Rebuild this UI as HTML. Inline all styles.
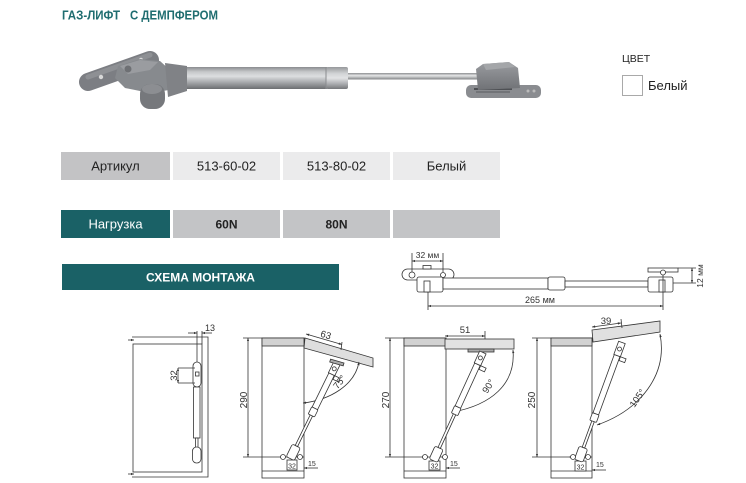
<!DOCTYPE html>
<html><head><meta charset="utf-8">
<style>
html,body{margin:0;padding:0;background:#fff;}
svg{display:block;}
</style></head>
<body>
<svg width="746" height="483" viewBox="0 0 746 483" xmlns="http://www.w3.org/2000/svg" font-family="'Liberation Sans', sans-serif">
<defs>
<linearGradient id="cyl" x1="0" y1="0" x2="0" y2="1">
<stop offset="0" stop-color="#8a8c8f"/>
<stop offset="0.22" stop-color="#c6c8ca"/>
<stop offset="0.42" stop-color="#dcdee0"/>
<stop offset="0.7" stop-color="#a6a8ab"/>
<stop offset="1" stop-color="#6c6e71"/>
</linearGradient>
<linearGradient id="cyl2" x1="0" y1="0" x2="0" y2="1">
<stop offset="0" stop-color="#96989b"/>
<stop offset="0.3" stop-color="#d2d4d6"/>
<stop offset="0.5" stop-color="#e2e3e5"/>
<stop offset="0.75" stop-color="#aeb0b3"/>
<stop offset="1" stop-color="#76787b"/>
</linearGradient>
<linearGradient id="rod" x1="0" y1="0" x2="0" y2="1">
<stop offset="0" stop-color="#8c8e90"/>
<stop offset="0.4" stop-color="#e6e7e8"/>
<stop offset="1" stop-color="#808284"/>
</linearGradient>
<linearGradient id="gray" x1="0" y1="0" x2="0" y2="1">
<stop offset="0" stop-color="#9a9ca0"/>
<stop offset="1" stop-color="#707276"/>
</linearGradient>
<marker id="a" viewBox="0 0 6 6" refX="6" refY="3" markerWidth="4" markerHeight="4" orient="auto-start-reverse"><path d="M0,0.8 L6,3 L0,5.2z" fill="#333"/></marker>
</defs>

<!-- Title -->
<text x="62" y="19.5" font-size="12.5" font-weight="bold" fill="#1f6d70" textLength="58" lengthAdjust="spacingAndGlyphs">ГАЗ-ЛИФТ</text>
<text x="130" y="19.5" font-size="12.5" font-weight="bold" fill="#1f6d70" textLength="88" lengthAdjust="spacingAndGlyphs">С ДЕМПФЕРОМ</text>

<!-- Photo of gas lift -->
<g>
  <line x1="88" y1="82" x2="150" y2="60" stroke="#7c7e83" stroke-width="18" stroke-linecap="round"/>
  <line x1="88" y1="77" x2="150" y2="55" stroke="#8e9094" stroke-width="5" stroke-linecap="round"/>
  <circle cx="101" cy="77" r="2.2" fill="#d8d8d8"/>
  <circle cx="141" cy="60" r="2.2" fill="#d8d8d8"/>
  <polygon points="118,66 140,59 160,61 171,71 169,90 150,93 125,88 115,78" fill="#878a8e"/>
  <polygon points="120,66 140,60 158,62 150,70 128,74" fill="#9a9ca0"/>
  <circle cx="128" cy="69" r="3.5" fill="#6e7074"/>
  <polygon points="165,63 187,66 187,91 168,97" fill="#808286"/>
  <rect x="140" y="84" width="25" height="25" rx="10" fill="#76787c"/>
  <ellipse cx="152" cy="89" rx="10" ry="5" fill="#8c8e92"/>
  <rect x="187" y="67" width="140" height="22" fill="url(#cyl)"/>
  <rect x="326" y="67" width="22" height="22" rx="2" fill="url(#cyl2)"/>
  <line x1="326" y1="67" x2="326" y2="89" stroke="#8a8c8f" stroke-width="1"/>
  <rect x="348" y="73" width="132" height="6.5" fill="url(#rod)"/>
  <rect x="466" y="85" width="75" height="13" rx="5" fill="#8a8c90"/>
  <line x1="474" y1="89" x2="512" y2="89" stroke="#4e5054" stroke-width="2"/>
  <line x1="476" y1="92" x2="510" y2="92" stroke="#6a6c70" stroke-width="1.5"/>
  <circle cx="528" cy="91" r="1.5" fill="#bbb"/>
  <circle cx="534" cy="91" r="1.5" fill="#bbb"/>
  <polygon points="476,69 483,64 509,62 518,68 520,88 478,90" fill="url(#gray)"/>
  <polygon points="483,64 509,62 515,67 486,70" fill="#a4a6a9"/>
</g>

<!-- Color -->
<text x="622" y="62" font-size="10.5" fill="#222">ЦВЕТ</text>
<rect x="622.5" y="75.5" width="20" height="20" fill="#fff" stroke="#a9a9a9" stroke-width="1"/>
<text x="648" y="90" font-size="13" fill="#222">Белый</text>

<!-- Table row 1 -->
<rect x="61" y="152" width="109" height="28" fill="#c3c3c5"/>
<rect x="173" y="152" width="107" height="28" fill="#ebebec"/>
<rect x="283" y="152" width="107" height="28" fill="#ebebec"/>
<rect x="393" y="152" width="107" height="28" fill="#ebebec"/>
<text x="115.5" y="170.5" font-size="13" fill="#222" text-anchor="middle">Артикул</text>
<text x="226.5" y="170.5" font-size="13" fill="#222" text-anchor="middle">513-60-02</text>
<text x="336.5" y="170.5" font-size="13" fill="#222" text-anchor="middle">513-80-02</text>
<text x="446.5" y="170.5" font-size="13" fill="#222" text-anchor="middle">Белый</text>

<!-- Table row 2 -->
<rect x="61" y="210" width="109" height="28" fill="#1a6166"/>
<rect x="173" y="210" width="107" height="28" fill="#c3c4c6"/>
<rect x="283" y="210" width="107" height="28" fill="#c3c4c6"/>
<rect x="393" y="210" width="107" height="28" fill="#c3c4c6"/>
<text x="115.5" y="228.5" font-size="13" fill="#fff" text-anchor="middle">Нагрузка</text>
<text x="226.5" y="228.5" font-size="12" font-weight="bold" fill="#222" text-anchor="middle">60N</text>
<text x="336.5" y="228.5" font-size="12" font-weight="bold" fill="#222" text-anchor="middle">80N</text>

<!-- Schema bar -->
<rect x="62" y="264" width="277" height="26" fill="#1a6166"/>
<text x="200.5" y="281.5" font-size="12" font-weight="bold" fill="#fff" text-anchor="middle">СХЕМА МОНТАЖА</text>

<!-- Top-right technical drawing -->
<g stroke="#333" stroke-width="0.8" fill="#fff">
  <rect x="402" y="269" width="52" height="11" rx="5.5"/>
  <circle cx="412" cy="275" r="3"/>
  <circle cx="443" cy="275" r="2.5"/>
  <rect x="423" y="265.5" width="8" height="3.5" fill="#fff"/>
  <rect x="417" y="277" width="26" height="15" rx="2"/>
  <rect x="424" y="281" width="6" height="11"/>
  <rect x="443" y="278" width="105" height="11"/>
  <rect x="548" y="277" width="17" height="13" rx="2"/>
  <rect x="565" y="281" width="83" height="6"/>
  <rect x="648" y="268" width="30" height="4"/>
  <circle cx="663" cy="272.5" r="2.5"/>
  <rect x="648" y="277" width="25" height="15" rx="2"/>
  <rect x="659" y="280" width="6" height="12"/>
  <line x1="412" y1="253" x2="412" y2="272"/>
  <line x1="443" y1="253" x2="443" y2="272"/>
  <line x1="412" y1="261" x2="443" y2="261" marker-start="url(#a)" marker-end="url(#a)"/>
  <line x1="428" y1="292" x2="428" y2="310"/>
  <line x1="663" y1="275" x2="663" y2="310"/>
  <line x1="428" y1="306" x2="663" y2="306" marker-start="url(#a)" marker-end="url(#a)"/>
  <line x1="678" y1="268" x2="696" y2="268"/>
  <line x1="673" y1="283" x2="696" y2="283"/>
  <line x1="692" y1="268" x2="692" y2="283" marker-start="url(#a)" marker-end="url(#a)"/>
</g>
<text x="427.5" y="258" font-size="8.5" fill="#333" text-anchor="middle">32 мм</text>
<text x="540" y="303" font-size="9" fill="#333" text-anchor="middle">265 мм</text>
<text transform="translate(703,276) rotate(-90)" font-size="8.5" fill="#333" text-anchor="middle">12 мм</text>

<!-- Diagram 1: front view -->
<g stroke="#333" stroke-width="0.8" fill="none">
  <polyline points="132,337 208,337 208,477 132,477"/>
  <rect x="133" y="344" width="69" height="128" fill="#fff"/>
  <line x1="197" y1="331" x2="197" y2="362"/>
  <line x1="202" y1="331" x2="202" y2="344"/>
  <line x1="188" y1="333" x2="197" y2="333" marker-end="url(#a)"/>
  <line x1="212" y1="333" x2="202" y2="333" marker-end="url(#a)"/>
  <rect x="193" y="362" width="8" height="25" rx="4" fill="#fff"/>
  <rect x="195.5" y="372" width="3.5" height="4" fill="#fff"/>
  <rect x="193.5" y="387" width="6.5" height="51" fill="#fff"/>
  <rect x="195.5" y="438" width="2.5" height="10" fill="#fff"/>
  <rect x="192.5" y="447" width="8.5" height="16" rx="4" fill="#fff"/>
  <line x1="178" y1="368" x2="195" y2="368"/>
  <line x1="178" y1="383" x2="195" y2="383"/>
  <line x1="178" y1="368" x2="178" y2="383" marker-start="url(#a)" marker-end="url(#a)"/>
  <line x1="128" y1="340" x2="134" y2="340" marker-end="url(#a)"/>
  <line x1="128" y1="474" x2="134" y2="474" marker-end="url(#a)"/>
</g>
<text x="205" y="331" font-size="9" fill="#333">13</text>
<text transform="translate(177,375.5) rotate(-90)" font-size="9.5" fill="#333" text-anchor="middle">32</text>

<!-- Diagram 2: 75° -->
<g stroke="#333" stroke-width="0.8" fill="#fff">
  <rect x="262" y="338" width="42" height="140"/>
  <rect x="262" y="338" width="42" height="8" fill="#d2d2d2"/>
  <line x1="262" y1="471" x2="304" y2="471"/>
  <polygon points="305,338 373,358 373,367 304,348" fill="#dedede"/>
  <line x1="243" y1="338" x2="262" y2="338" fill="none"/>
  <line x1="243" y1="457" x2="283" y2="457" fill="none"/>
  <line x1="248" y1="338" x2="248" y2="457" marker-start="url(#a)" marker-end="url(#a)"/>
  <line x1="306" y1="334" x2="342" y2="344.5" marker-start="url(#a)" marker-end="url(#a)"/>
  <line x1="342" y1="342" x2="341" y2="350"/>
  <path d="M303,403 C330,400 355,385 359,362" fill="none" marker-start="url(#a)" marker-end="url(#a)"/>
  <rect x="287" y="460" width="10" height="10"/>
  <line x1="280" y1="457" x2="304" y2="457"/>
  <line x1="304" y1="468" x2="318" y2="468" marker-start="url(#a)"/>
  <g transform="translate(292,455) rotate(-63.9)">
    <rect x="-4" y="-4.5" width="14" height="9" rx="2"/>
    <rect x="10" y="-1.3" width="36" height="2.6"/>
    <rect x="44" y="-3.5" width="8" height="7" rx="1"/>
    <rect x="52" y="-3" width="38" height="6"/>
    <rect x="90" y="-3.5" width="12" height="7"/>
    <circle cx="96" cy="0" r="2"/>
    <rect x="86" y="3.5" width="4" height="6"/>
  </g>
  <rect x="330" y="361" width="14" height="3" fill="#aaa" transform="rotate(16 337 362)"/>
  <circle cx="283" cy="457" r="2.5"/>
  <circle cx="300" cy="457" r="2.5"/>
</g>
<text transform="translate(247,400) rotate(-90)" font-size="10" fill="#333" text-anchor="middle">290</text>
<text transform="translate(325,338) rotate(16)" font-size="9.5" fill="#333" text-anchor="middle">63</text>
<text transform="translate(342,384) rotate(-52)" font-size="9.5" fill="#333" text-anchor="middle">75°</text>
<text x="292" y="468.5" font-size="7" fill="#333" text-anchor="middle">32</text>
<text x="308" y="466" font-size="7" fill="#333">15</text>

<!-- Diagram 3: 90° -->
<g stroke="#333" stroke-width="0.8" fill="#fff">
  <rect x="404" y="338" width="42" height="140"/>
  <rect x="404" y="338" width="42" height="8" fill="#d2d2d2"/>
  <line x1="404" y1="471" x2="446" y2="471"/>
  <rect x="445" y="339" width="69" height="10" fill="#e2e2e2"/>
  <rect x="468" y="349" width="26" height="3" fill="#aaa"/>
  <line x1="385" y1="338" x2="404" y2="338"/>
  <line x1="385" y1="457" x2="427" y2="457"/>
  <line x1="390" y1="338" x2="390" y2="457" marker-start="url(#a)" marker-end="url(#a)"/>
  <line x1="445" y1="336" x2="485" y2="336" marker-start="url(#a)" marker-end="url(#a)"/>
  <line x1="485" y1="331" x2="485" y2="339"/>
  <path d="M453,412 C490,405 516,385 513,350" fill="none" marker-start="url(#a)" marker-end="url(#a)"/>
  <rect x="429" y="461" width="11" height="9"/>
  <line x1="422" y1="457" x2="446" y2="457"/>
  <line x1="446" y1="468" x2="460" y2="468" marker-start="url(#a)"/>
  <g transform="translate(435,457) rotate(-65.4)">
    <rect x="-4" y="-4.5" width="14" height="9" rx="2"/>
    <rect x="10" y="-1.3" width="39" height="2.6"/>
    <rect x="47" y="-3.5" width="8" height="7" rx="1"/>
    <rect x="55" y="-3" width="47" height="6"/>
    <rect x="102" y="-3.5" width="13" height="7"/>
    <circle cx="109" cy="0" r="2"/>
    <rect x="98" y="3.5" width="4" height="6"/>
  </g>
  <circle cx="425" cy="457" r="2.5"/>
  <circle cx="445" cy="457" r="2.5"/>
</g>
<text transform="translate(389,400) rotate(-90)" font-size="10" fill="#333" text-anchor="middle">270</text>
<text x="465" y="333" font-size="9.5" fill="#333" text-anchor="middle">51</text>
<text transform="translate(491,388) rotate(-57)" font-size="9.5" fill="#333" text-anchor="middle">90°</text>
<text x="434.5" y="468.5" font-size="7" fill="#333" text-anchor="middle">32</text>
<text x="450" y="466" font-size="7" fill="#333">15</text>

<!-- Diagram 4: 105° -->
<g stroke="#333" stroke-width="0.8" fill="#fff">
  <rect x="551" y="338" width="41" height="140"/>
  <rect x="551" y="338" width="41" height="8" fill="#d2d2d2"/>
  <line x1="551" y1="471" x2="592" y2="471"/>
  <polygon points="592,330 660,321 660,332 593,342" fill="#e0e0e0"/>
  <line x1="532" y1="338" x2="551" y2="338"/>
  <line x1="532" y1="457" x2="573" y2="457"/>
  <line x1="537" y1="338" x2="537" y2="457" marker-start="url(#a)" marker-end="url(#a)"/>
  <line x1="592" y1="327" x2="621" y2="323" marker-start="url(#a)" marker-end="url(#a)"/>
  <line x1="621" y1="319" x2="622" y2="328"/>
  <path d="M597,425 C640,410 668,375 660,334" fill="none" marker-start="url(#a)" marker-end="url(#a)"/>
  <rect x="575" y="461" width="11" height="10"/>
  <line x1="569" y1="457" x2="592" y2="457"/>
  <line x1="592" y1="470" x2="606" y2="470" marker-start="url(#a)"/>
  <g transform="translate(580,457) rotate(-69.9)">
    <rect x="-4" y="-4.5" width="14" height="9" rx="2"/>
    <rect x="10" y="-1.3" width="30" height="2.6"/>
    <rect x="38" y="-3.5" width="8" height="7" rx="1"/>
    <rect x="46" y="-3" width="62" height="6"/>
    <rect x="108" y="-3.5" width="14" height="7"/>
    <circle cx="115" cy="0" r="2"/>
    <rect x="104" y="3.5" width="4" height="6"/>
  </g>
  <circle cx="573" cy="457" r="2.5"/>
  <circle cx="588" cy="457" r="2.5"/>
</g>
<text transform="translate(535,400) rotate(-90)" font-size="10" fill="#333" text-anchor="middle">250</text>
<text x="606" y="324" font-size="9.5" fill="#333" text-anchor="middle">39</text>
<text transform="translate(640,400) rotate(-55)" font-size="9.5" fill="#333" text-anchor="middle">105°</text>
<text x="580.5" y="469.5" font-size="7" fill="#333" text-anchor="middle">32</text>
<text x="596" y="467" font-size="7" fill="#333">15</text>
</svg>
</body></html>
